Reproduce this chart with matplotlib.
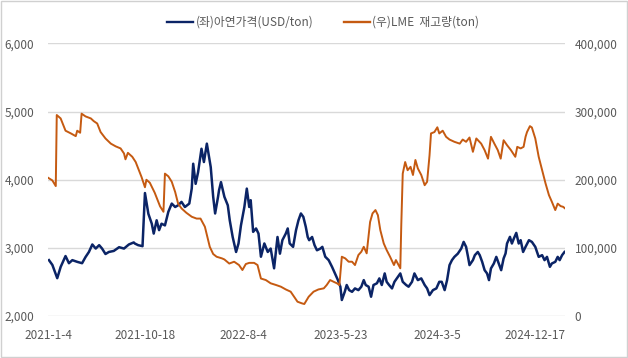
import matplotlib
matplotlib.use("Agg")
import matplotlib.pyplot as plt
from matplotlib.lines import Line2D
from matplotlib.patches import Rectangle
from matplotlib.ticker import FuncFormatter

plt.rcParams['font.family'] = ['Noto Sans CJK KR', 'DejaVu Sans']

# x: trading-day index from 2021-01-04
tick_days = [0, 200, 400, 600, 800, 1000]
tick_labels = ["2021-1-4", "2021-10-18", "2022-8-4", "2023-5-23", "2024-3-5", "2024-12-17"]

price_day = [2, 9, 19, 26, 36, 43, 50, 60, 70, 77, 84, 91, 98, 105, 111, 118, 125, 135, 146, 156,
             166, 176, 178, 185, 194, 199, 206, 213, 217, 223, 228, 233, 240, 247, 254, 261, 267,
             274, 281, 290, 295, 298, 303, 308, 315, 320, 326, 331, 334, 339, 343, 349, 351, 355,
             362, 369, 373, 379, 386, 391, 396, 403, 408, 413, 416, 421, 427, 432, 437, 444, 451,
             457, 464, 471, 476, 481, 488, 492, 496, 503, 509, 514, 519, 524, 529, 533, 536, 542,
             547, 552, 559, 563, 569, 576, 583, 589, 595, 600, 603, 609, 613, 618, 624, 630, 637,
             643, 648, 652, 658, 663, 668, 675, 680, 685, 691, 695, 700, 706, 711, 718, 723, 728,
             735, 740, 747, 752, 759, 766, 773, 778, 783, 790, 797, 803, 808, 814, 819, 824, 829,
             834, 841, 848, 853, 858, 862, 865, 872, 876, 882, 886, 891, 896, 901, 905, 909, 915,
             920, 925, 930, 935, 939, 942, 948, 952, 956, 961, 966, 970, 975, 980, 987, 993, 1000,
             1007, 1014, 1019, 1024, 1030, 1034, 1041, 1046, 1050, 1055, 1060]
price = [2820, 2750, 2555, 2720, 2880, 2775, 2820, 2795, 2775, 2865, 2940, 3050, 2990, 3040, 2990,
         2910, 2940, 2955, 3010, 2990, 3050, 3080, 3065, 3040, 3025, 3805, 3500, 3355, 3210, 3405,
         3260, 3355, 3330, 3530, 3650, 3600, 3625, 3675, 3600, 3650, 3870, 4235, 3940, 4110, 4455,
         4260, 4530, 4310, 4185, 3750, 3505, 3750, 3845, 3965, 3750, 3625, 3405, 3160, 2940, 3065,
         3330, 3600, 3870, 3600, 3700, 3235, 3285, 3210, 2870, 3065, 2940, 2990, 2700, 3160, 2915,
         3113, 3210, 3285, 3065, 3015, 3260, 3405, 3505, 3455, 3310, 3160, 3113, 3160, 3040, 2965,
         2990, 3015, 2870, 2820, 2720, 2625, 2527, 2430, 2235, 2355, 2455, 2380, 2355, 2405, 2380,
         2430, 2527, 2455, 2430, 2283, 2455, 2480, 2552, 2455, 2625, 2502, 2455, 2405, 2502, 2575,
         2625, 2502, 2455, 2430, 2502, 2625, 2527, 2552, 2455, 2405, 2307, 2380, 2405, 2502, 2502,
         2380, 2527, 2747, 2820, 2868, 2915, 2990, 3088, 3015, 2868, 2747, 2820, 2893, 2940, 2893,
         2795, 2673, 2625, 2527, 2698, 2771, 2868, 2771, 2673, 2845, 2918, 3064, 3162, 3064, 3137,
         3220, 3064, 3113, 2940, 3015, 3113, 3088, 3015, 2868, 2893, 2820, 2868, 2722, 2771, 2795,
         2868, 2820, 2893, 2940]

stock_day = [0, 9, 16, 18, 26, 36, 47, 57, 60, 66, 69, 77, 88, 94, 101, 108, 118, 129, 139, 149,
             156, 159, 164, 173, 180, 192, 199, 202, 209, 219, 230, 237, 240, 247, 254, 261, 267,
             274, 284, 295, 305, 313, 322, 332, 339, 346, 357, 362, 372, 382, 392, 399, 406, 413,
             423, 430, 437, 447, 457, 468, 478, 488, 498, 505, 512, 521, 526, 535, 545, 555, 566,
             572, 579, 586, 593, 598, 603, 610, 617, 624, 630, 637, 643, 648, 654, 661, 666, 672,
             677, 682, 689, 695, 702, 710, 714, 723, 725, 728, 733, 738, 744, 749, 754, 759, 766,
             773, 778, 783, 786, 793, 799, 803, 810, 817, 824, 834, 845, 851, 858, 865, 872, 879,
             889, 896, 903, 909, 916, 923, 929, 935, 942, 950, 959, 963, 970, 976, 980, 983, 989,
             993, 1000, 1007, 1014, 1021, 1028, 1034, 1041, 1046, 1052, 1057, 1061]
stock = [203000, 199000, 190700, 295000, 290000, 272000, 268000, 264000, 272000, 269000, 297000,
         293000, 290000, 286000, 282600, 270000, 260600, 253000, 249000, 246000, 238600, 230000,
         239500, 233700, 226000, 204000, 189000, 200000, 195600, 181000, 161000, 153000, 209000,
         205000, 197000, 182000, 165000, 158000, 151500, 145700, 143000, 143000, 131000, 101600,
         91000, 87000, 84600, 83000, 77000, 79700, 74800, 67500, 76300, 78000, 78000, 74800, 55000,
         52800, 48000, 45500, 43000, 39000, 35700, 28300, 21000, 18600, 17600, 28300, 35700, 39000,
         40600, 45500, 52800, 50300, 48000, 45500, 87000, 84600, 79700, 79700, 74800, 89500, 94300,
         101600, 92000, 138000, 150600, 155500, 148000, 126000, 106600, 96800, 87000, 74800, 82100,
         70000, 133500, 209000, 226000, 214000, 219000, 207000, 229000, 216600, 207000, 192000,
         197000, 236000, 268000, 270000, 277000, 268000, 272000, 263000, 259000, 255700, 253000,
         259000, 255700, 262000, 241000, 260600, 253000, 243500, 231000, 263000, 253000, 243500,
         231000, 258000, 250800, 243500, 233700, 248300, 246000, 248300, 263000, 270000, 278700,
         276700, 260600, 233700, 214000, 194700, 177500, 167700, 155500, 165000, 161300, 160300,
         158000]

BLUE = "#0b2466"
ORANGE = "#c55a11"
TXT = "#595959"
GRID = "#d9d9d9"

fig = plt.figure(figsize=(6.28, 3.58), dpi=100)
ax = fig.add_axes([0.0764, 0.1173, 0.8233, 0.7612])
ax2 = ax.twinx()

ax.plot(price_day, price, color=BLUE, lw=1.8, zorder=3)
ax2.plot(stock_day, stock, color=ORANGE, lw=1.4, zorder=3)

ax.set_xlim(0, 1061)
ax.set_ylim(2000, 6000)
ax.set_yticks([2000, 3000, 4000, 5000, 6000])
ax2.set_ylim(0, 400000)
ax2.set_yticks([0, 100000, 200000, 300000, 400000])
fmt = FuncFormatter(lambda v, p: f"{int(v):,}")
ax.yaxis.set_major_formatter(fmt)
ax2.yaxis.set_major_formatter(fmt)
ax.set_xticks(tick_days)
ax.set_xticklabels(tick_labels)

ax.grid(axis='y', color=GRID, lw=1.0)
ax.set_axisbelow(True)
for a in (ax, ax2):
    for s in a.spines.values():
        s.set_visible(False)
ax.tick_params(axis='y', length=0, pad=10, labelsize=8.5, labelcolor=TXT)
ax2.tick_params(axis='y', length=0, pad=7, labelsize=8.5, labelcolor=TXT)
ax.tick_params(axis='x', length=0, pad=9, labelsize=8.5, labelcolor=TXT)

handles = [Line2D([], [], color=BLUE, lw=1.7), Line2D([], [], color=ORANGE, lw=1.7)]
fig.legend(handles, ["(좌)아연가격(USD/ton)", "(우)LME  재고량(ton)"], loc='center',
           bbox_to_anchor=(0.515, 0.938), ncol=2, frameon=False, fontsize=8.5,
           labelcolor=TXT, handlelength=2.2, handletextpad=0.2, columnspacing=2.6)

fig.patches.append(Rectangle((0.002, 0.003), 0.996, 0.994, transform=fig.transFigure,
                             fill=False, edgecolor="#d0d0d0", lw=1.0))

fig.savefig("out.png", dpi=100)
